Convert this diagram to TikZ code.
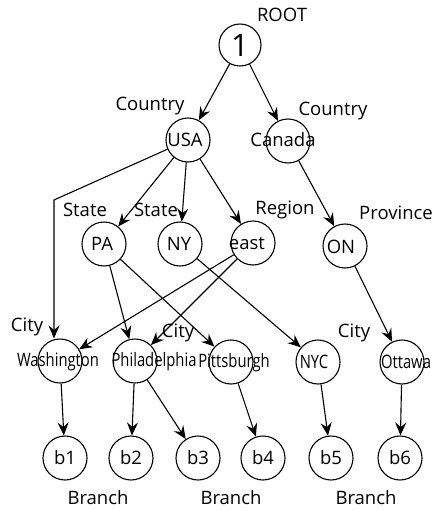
\documentclass[tikz,border=0pt]{standalone}
\usepackage{fontspec}
\setmainfont{Open Sans}
\usetikzlibrary{arrows.meta}
\begin{document}
\begin{tikzpicture}[x=1pt,y=-1pt,
  every node/.style={font=\fontsize{18.5}{18.5}\selectfont},
  vtx/.style={circle,draw,line width=1.1pt,minimum size=44pt,inner sep=0pt},
  tag/.style={inner sep=0pt},
  edge/.style={line width=1.1pt,-{Stealth[length=13pt,width=11pt,inset=4.5pt]}},
  narrow/.style={inner sep=0pt}]
\useasboundingbox (0,0) rectangle (433,511);
\newcommand{\cond}[1]{\scalebox{0.8}[1]{#1}}

% root
\node[vtx,minimum size=42pt] (root) at (240,45) {\fontsize{31}{31}\selectfont 1};
\node[tag] (lroot) at (282,15) {ROOT};

% countries
\node[vtx] (usa) at (188,140) {};
\node[tag] (tusa) at (185,140) {USA};
\node[tag] (lusa) at (150,106) {Country};
\node[vtx] (can) at (288,141) {};
\node[tag] (tcan) at (283,140) {Canada};
\node[tag] (lcan) at (333,111) {Country};

% states and regions
\node[vtx] (pa) at (104,244) {};
\node[tag] (tpa) at (102,244) {PA};
\node[tag] (lpa) at (85,210) {State};
\node[vtx] (ny) at (180,244) {};
\node[tag] (tny) at (179,244) {NY};
\node[tag] (lny) at (156,210) {State};
\node[vtx] (east) at (253,243) {};
\node[tag] (teast) at (247,243) {east};
\node[tag] (least) at (285,210) {Region};
\node[vtx] (on) at (345,246) {};
\node[tag] (ton) at (341,247) {ON};
\node[tag] (lon) at (396,213) {Province};

% cities
\node[vtx] (wash) at (60,361) {};
\node[narrow] (twash) at (58,362) {\cond{Washington}};
\node[tag] (lwash) at (27,327) {City};
\node[vtx] (phil) at (135,361) {};
\node[narrow] (tphil) at (154,362) {\cond{Philadelphia}};
\node[tag] (lphil) at (178,333) {City};
\node[vtx] (pitt) at (231,362) {};
\node[narrow] (tpitt) at (234,363) {\cond{Pittsburgh}};
\node[vtx] (nyc) at (318,362) {};
\node[narrow] (tnyc) at (314,362) {\cond{NYC}};
\node[tag] (lnyc) at (354,333) {City};
\node[vtx] (ott) at (402,362) {};
\node[narrow] (tott) at (406,362) {\cond{Ottawa}};

% branches
\node[vtx] (b1) at (65,458) {b1};
\node[vtx] (b2) at (131,458) {b2};
\node[vtx] (b3) at (198,458) {b3};
\node[vtx] (b4) at (263,458) {b4};
\node[vtx] (b5) at (331,458) {b5};
\node[vtx] (b6) at (400,458) {b6};
\node[tag] (br1) at (98,498) {Branch};
\node[tag] (br2) at (231,498) {Branch};
\node[tag] (br3) at (366,498) {Branch};

% connectors
\coordinate (bend) at (54,200);
\draw[edge] (root) -- (usa);
\draw[edge] (root) -- (can);
\draw[edge] (usa) -- (bend) -- (wash.north -| bend);
\draw[edge] (usa) -- (pa);
\draw[edge] (usa) -- (ny);
\draw[edge] (usa) -- (east);
\draw[edge] (can) -- (on);
\draw[edge] (pa) -- (phil);
\draw[edge] (pa) -- (pitt);
\draw[edge] (ny) -- (nyc);
\draw[edge] (east) -- (wash);
\draw[edge] (east) -- (phil);
\draw[edge] (on) -- (ott);
\draw[edge] (wash) -- (b1);
\draw[edge] (phil) -- (b2);
\draw[edge] (phil) -- (b3);
\draw[edge] (pitt) -- (b4);
\draw[edge] (nyc) -- (b5);
\draw[edge] (ott) -- (b6);
\end{tikzpicture}
\end{document}
